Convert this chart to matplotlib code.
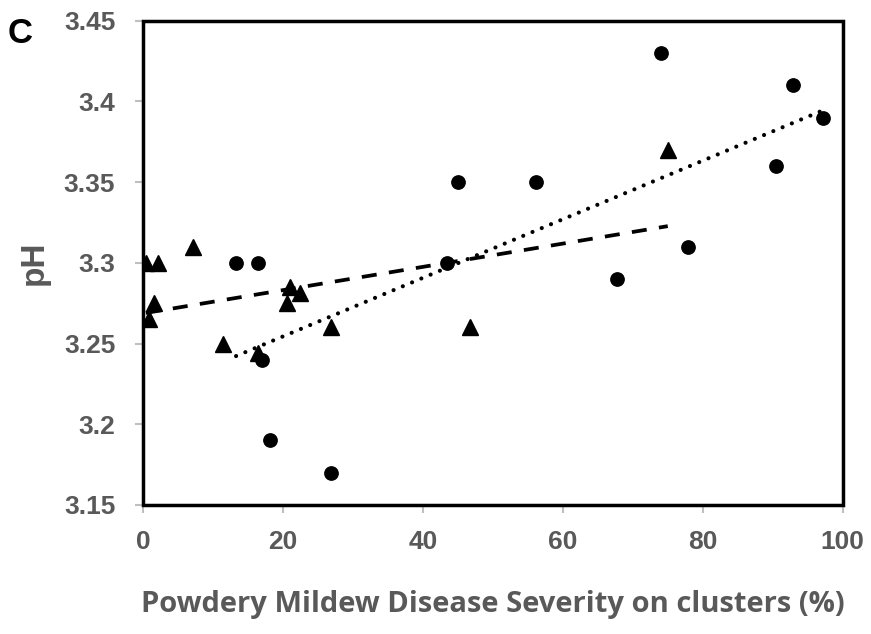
import numpy as np
import matplotlib.pyplot as plt
from matplotlib.patches import Rectangle

# circles
circ_x = [13.3, 16.5, 17.0, 18.2, 26.8, 43.4, 45.0, 56.1, 67.7, 74.0, 77.9, 90.5, 92.9, 97.2]
circ_y = [3.30, 3.30, 3.24, 3.19, 3.17, 3.30, 3.35, 3.35, 3.29, 3.43, 3.31, 3.36, 3.41, 3.39]

# triangles
tri_x = [0.4, 2.1, 7.2, 0.9, 1.6, 11.5, 16.5, 21.0, 22.5, 20.6, 26.8, 46.8, 75.0]
tri_y = [3.30, 3.30, 3.31, 3.265, 3.275, 3.25, 3.244, 3.285, 3.281, 3.275, 3.26, 3.26, 3.37]

xticks = [0, 20, 40, 60, 80, 100]
yticks = [3.15, 3.2, 3.25, 3.3, 3.35, 3.4, 3.45]
ylabels = ['3.15', '3.2', '3.25', '3.3', '3.35', '3.4', '3.45']

grey = '#595959'
plt.rcParams['font.family'] = ['Liberation Sans', 'DejaVu Sans']

fig = plt.figure(figsize=(8.71, 6.34), dpi=100)
ax = fig.add_axes([0.1642, 0.2035, 0.8033, 0.7639])

ax.plot(circ_x, circ_y, 'o', color='black', markersize=9.6)
ax.plot(tri_x, tri_y, '^', color='black', markersize=12)

# linear trendlines
pc = np.polyfit(circ_x, circ_y, 1)
xc = np.array([min(circ_x), max(circ_x)])
ax.plot(xc, np.polyval(pc, xc), color='black', lw=3, linestyle=(0, (0.01, 2.4)),
        dash_capstyle='round')

pt = np.polyfit(tri_x, tri_y, 1)
xt = np.array([min(tri_x), max(tri_x)])
ax.plot(xt, np.polyval(pt, xt), color='black', lw=2.7, linestyle=(0, (4.0, 3.3)))

ax.set_xlim(0, 100)
ax.set_ylim(3.15, 3.45)
ax.set_xticks(xticks)
ax.set_yticks(yticks)
ax.set_xticklabels([str(t) for t in xticks], fontweight='bold')
ax.set_yticklabels(ylabels, fontweight='bold')

for s in ax.spines.values():
    s.set_color('#bfbfbf')
    s.set_linewidth(1.5)
ax.add_patch(Rectangle((0, 0), 1, 1, transform=ax.transAxes, fill=False,
                       edgecolor='black', linewidth=2.5, clip_on=False, zorder=5))

ax.tick_params(direction='out', length=6, width=1.5, color='#bfbfbf',
               labelsize=19, labelcolor=grey)
ax.tick_params(axis='x', pad=12)
ax.tick_params(axis='y', pad=14)

ax.set_ylabel('pH', fontsize=24, fontweight='bold', color=grey, va='center')
ax.yaxis.set_label_coords(-0.156, 0.5)
ax.set_xlabel('Powdery Mildew Disease Severity on clusters (%)', fontsize=21,
              fontweight='bold', color=grey, va='center',
              family=['Open Sans', 'DejaVu Sans'])
ax.xaxis.set_label_coords(0.5, -0.2065)

fig.text(0.0092, 0.932, 'C', fontsize=25, fontweight='bold', color='black')

fig.savefig('out.png', dpi=100)
